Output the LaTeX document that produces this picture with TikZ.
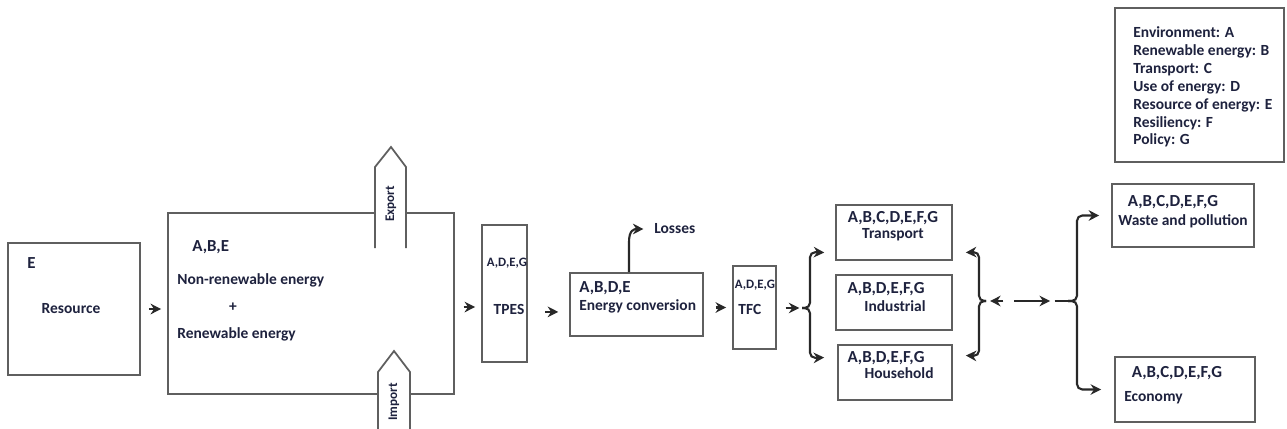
\documentclass[tikz,border=0pt]{standalone}
\usepackage{fontspec}
\setmainfont{Carlito}
\usetikzlibrary{arrows.meta, positioning, calc}
\definecolor{boxgray}{RGB}{95,95,95}
\definecolor{arrowgray}{RGB}{40,40,40}
\definecolor{inknavy}{RGB}{30,34,62}

\begin{document}
\begin{tikzpicture}[x=0.02cm, y=-0.02cm,
  block/.style={draw=boxgray, line width=1pt, fill=white, inner sep=0pt},
  lbl/.style={text=inknavy, inner sep=0pt, font=\fontsize{8.8}{10.2}\selectfont\bfseries},
  code/.style={text=inknavy, inner sep=0pt, font=\fontsize{9.6}{11}\selectfont\bfseries},
  smallcode/.style={text=inknavy, inner sep=0pt, font=\fontsize{7.3}{8.5}\selectfont\bfseries},
  tradelbl/.style={text=inknavy, inner sep=0pt, font=\fontsize{7.5}{8.5}\selectfont\bfseries},
  arrow/.style={-{Stealth[length=6pt,width=6pt]}, line width=1.2pt, arrowgray},
  brace/.style={arrow, rounded corners=3pt},
  tradearrow/.style={draw=boxgray, line width=1pt, fill=white}
]
  \fill[white] (0,0) rectangle (1287,429);
  \useasboundingbox (0,0) rectangle (1287,429);

  % resource
  \node[block, minimum width=2.64cm, minimum height=2.64cm] (res) at (74,309) {};
  \node[code, anchor=west] (resCode) at (27,263) {E};
  \node[lbl] (resName) at (71,309) {Resource};

  % primary energy with trade
  \node[block, minimum width=5.72cm, minimum height=3.62cm] (main) at (311,303.5) {};
  \node[code, anchor=west] (mainCode) at (192,247) {A,B,E};
  \node[lbl, anchor=west] (nonRen) at (177,280) {Non-renewable energy};
  \node[lbl] (plus) at (233,307) {+};
  \node[lbl, anchor=west] (ren) at (177,334) {Renewable energy};
  \filldraw[tradearrow] (375,248) -- (375,167) -- (391,147) -- (406,167) -- (406,248);
  \node[tradelbl, rotate=90] (export) at (391,204) {Export};
  \filldraw[tradearrow] (378,430) -- (378,372) -- (394,351) -- (410,372) -- (410,430);
  \node[tradelbl, rotate=90] (import) at (394,402) {Import};

  % TPES
  \node[block, minimum width=0.9cm, minimum height=2.74cm] (tpes) at (504.5,293.5) {};
  \node[smallcode] (tpesCode) at (507,263) {A,D,E,G};
  \node[lbl] (tpesName) at (509,309) {TPES};

  % conversion
  \node[block, minimum width=2.66cm, minimum height=1.26cm] (conv) at (636.5,304.5) {};
  \node[code, anchor=west] (convCode) at (579,288) {A,B,D,E};
  \node[lbl, anchor=west] (convName) at (579,306) {Energy conversion};
  \node[lbl, anchor=west] (losses) at (654,229) {Losses};

  % TFC
  \node[block, minimum width=0.86cm, minimum height=1.66cm] (tfc) at (754.5,307.5) {};
  \node[smallcode] (tfcCode) at (755,285) {A,D,E,G};
  \node[lbl, anchor=west] (tfcName) at (738,309) {TFC};

  % sectors
  \node[block, minimum width=2.32cm, minimum height=1.1cm] (trans) at (894,232.5) {};
  \node[code] (transCode) at (893,218) {A,B,C,D,E,F,G};
  \node[lbl] (transName) at (893,235) {Transport};
  \node[block, minimum width=2.32cm, minimum height=1.1cm] (indus) at (894,302.5) {};
  \node[code] (indusCode) at (886,289) {A,B,D,E,F,G};
  \node[lbl] (indusName) at (895,306) {Industrial};
  \node[block, minimum width=2.28cm, minimum height=1.1cm] (house) at (895,372.5) {};
  \node[code] (houseCode) at (886,358) {A,B,D,E,F,G};
  \node[lbl] (houseName) at (899,373) {Household};

  % outcomes
  \node[block, minimum width=2.84cm, minimum height=1.26cm] (waste) at (1183,215.5) {};
  \node[code] (wasteCode) at (1173,202) {A,B,C,D,E,F,G};
  \node[lbl] (wasteName) at (1183,221) {Waste and pollution};
  \node[block, minimum width=2.8cm, minimum height=1.3cm] (econ) at (1185,389.5) {};
  \node[code] (econCode) at (1177,373) {A,B,C,D,E,F,G};
  \node[lbl, anchor=west] (econName) at (1124,398) {Economy};

  % legend
  \node[block, minimum width=3.38cm, minimum height=3.08cm] (legend) at (1199.5,85) {};
  \node[lbl, align=left, anchor=west] (legendText) at (1133,87)
    {Environment: A\\Renewable energy: B\\Transport: C\\Use of energy: D\\Resource of energy: E\\Resiliency: F\\Policy: G};

  % flow
  \draw[arrow, shorten <=4.5pt, shorten >=3.4pt] (res.east) -- (res.east -| main.west);
  \draw[arrow, shorten <=5pt, shorten >=3.4pt] ([yshift=-2pt]main.east) -- ([yshift=-2pt]main.east -| tpes.west);
  \draw[arrow, shorten <=10pt, shorten >=6.2pt] ([yshift=-4.2pt]conv.west -| tpes.east) -- ([yshift=-4.2pt]conv.west);
  \draw[arrow, shorten <=6.8pt, shorten >=3.4pt] (conv.east |- tfc.west) -- (tfc.west);
  \draw[arrow, shorten >=6pt] ([xshift=-4.25pt]conv.north) -- (629,242) .. controls (629,230) and (634,229) .. (losses.west);

  \coordinate (lfork) at (802,308);
  \draw[arrow, shorten <=5pt, shorten >=1.5pt] (tfc.east |- lfork) -- (lfork);
  \draw[brace, shorten >=6.2pt] (lfork) -- (810,308) -- (810,252) -- ([yshift=4.5pt]trans.south west);
  \draw[brace, shorten >=7.4pt] (lfork) -- (810,308) -- (810,358) -- ([yshift=-7.4pt]house.north west);

  \coordinate (mfork) at (986,301);
  \draw[brace, shorten >=7.4pt] (mfork) -- (979,301) -- (979,252) -- ([yshift=4.5pt]trans.south east);
  \draw[brace, shorten >=7.4pt] (mfork) -- (979,301) -- (979,356) -- ([yshift=-6.2pt]house.north east);

  \coordinate (rfork) at (1068,301);
  \draw[arrow, shorten <=36.8pt, shorten >=2.3pt] (rfork) -- (mfork);
  \draw[arrow, shorten <=16pt, shorten >=10.2pt] (mfork) -- (rfork);
  \draw[arrowgray, line width=1.2pt, shorten <=39.1pt] (mfork) -- (rfork);
  \draw[brace, shorten >=6.8pt] (rfork) -- (1077,301) -- (1077,215.5) -- (waste.west);
  \draw[brace, shorten >=7.4pt] (rfork) -- (1077,301) -- (1077,389.5) -- (econ.west);
\end{tikzpicture}
\end{document}
